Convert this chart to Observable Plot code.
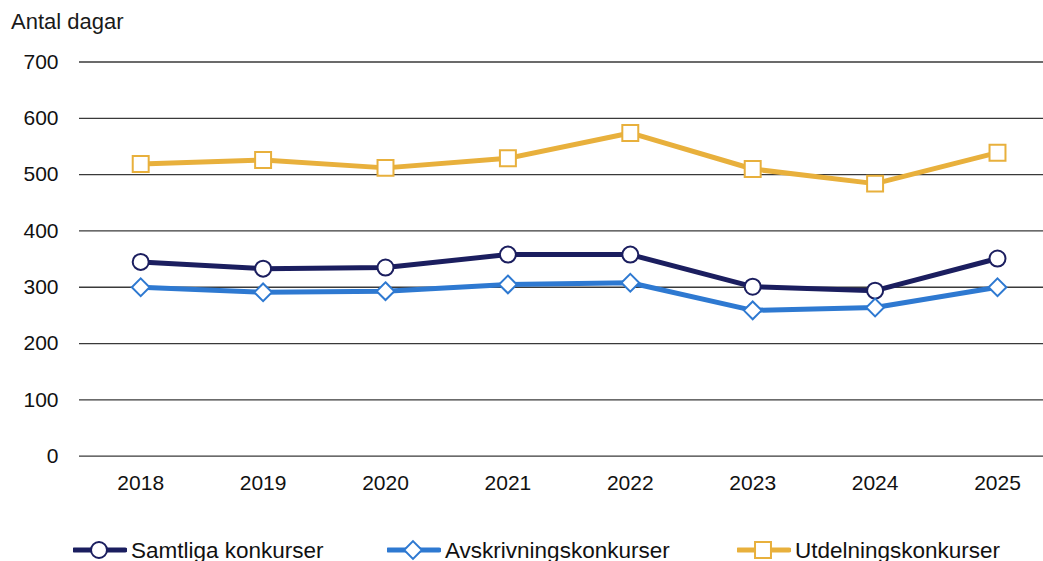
<!DOCTYPE html>
<html>
<head>
<meta charset="utf-8">
<script src="https://cdn.jsdelivr.net/npm/d3@7"></script>
<script src="https://cdn.jsdelivr.net/npm/@observablehq/plot@0.6"></script>
<style>
  html, body { margin: 0; padding: 0; background: #fff; overflow: hidden; }
  #wrap { position: relative; width: 1043px; height: 561px; font-family: "Liberation Sans", Arial, sans-serif; color: #111; }
  #title { position: absolute; left: 11px; top: 9px; font-size: 22px; color: #1a1a1a; }
  #chart { position: absolute; left: 0; top: 0; }
  .leg { position: absolute; top: 538px; height: 26px; display: flex; align-items: center; font-size: 22.5px; color: #111; white-space: nowrap; }
  .leg svg { display: block; margin-right: 4px; }
</style>
</head>
<body>
<div id="wrap">
  <div id="chart"></div>
  <div id="title">Antal dagar</div>
  <div id="legend"></div>
</div>
<script>
const years = [2018, 2019, 2020, 2021, 2022, 2023, 2024, 2025];
const seriesNames = ["Samtliga konkurser", "Avskrivningskonkurser", "Utdelningskonkurser"];
const samtliga = [345, 333, 335, 358, 358, 301, 294, 351];
const avskrivning = [300, 291, 293, 305, 308, 259, 264, 300];
const utdelning = [519, 526, 512, 529, 574, 510, 484, 539];
const yTicks = [0, 100, 200, 300, 400, 500, 600, 700];
const colors = ["#1b1e5f", "#2e79d1", "#e8b03c"];
const symbols = ["circle", "diamond2", "square"];
const radii = [8, 8, 9];

const valuesBySeries = [samtliga, avskrivning, utdelning];
const data = [];
seriesNames.forEach((s, i) => years.forEach((y, j) => data.push({series: s, year: y, value: valuesBySeries[i][j]})));

const width = 1043, height = 520;
const marginLeft = 79, marginTop = 61.5;
const marginBottom = height - 455.7;

const chart = Plot.plot({
  width, height,
  marginLeft, marginRight: 0, marginTop, marginBottom,
  style: { fontFamily: "Liberation Sans, Arial, sans-serif", fontSize: "21px", color: "#111", background: "transparent" },
  x: { domain: [2017.5, 2025.5], range: [marginLeft, marginLeft + 8 * 122.4], label: null },
  y: { domain: [0, 700], label: null },
  marks: [
    Plot.ruleY(yTicks, { stroke: "#3a3a3a", strokeWidth: 1.3 }),
    Plot.axisY(yTicks, { tickSize: 0, tickPadding: 21, label: null, fontSize: 21 }),
    Plot.axisX(years, { tickSize: 0, tickPadding: 19, label: null, tickFormat: d => String(d), fontSize: 21 }),
    ...seriesNames.map((s, i) => Plot.line(data.filter(d => d.series === s), {
      x: "year", y: "value", stroke: colors[i], strokeWidth: 5, strokeLinejoin: "round"
    })),
    ...seriesNames.map((s, i) => Plot.dot(data.filter(d => d.series === s), {
      x: "year", y: "value", symbol: () => symbols[i], r: radii[i], fill: "white", stroke: colors[i], strokeWidth: 2
    }))
  ]
});
document.getElementById("chart").appendChild(chart);

// legend
const legend = document.getElementById("legend");
const legLeft = [73, 387, 737];
seriesNames.forEach((s, i) => {
  const div = document.createElement("div");
  div.className = "leg";
  div.style.left = legLeft[i] + "px";
  const svg = d3.create("svg").attr("width", 54).attr("height", 26);
  svg.append("line").attr("x1", 1).attr("x2", 52).attr("y1", 12).attr("y2", 12)
    .attr("stroke", colors[i]).attr("stroke-width", 5).attr("stroke-linecap", "round");
  const sym = { circle: d3.symbolCircle, diamond2: d3.symbolDiamond2, square: d3.symbolSquare }[symbols[i]];
  svg.append("path").attr("transform", "translate(26,12)")
    .attr("d", d3.symbol(sym, Math.PI * radii[i] * radii[i])())
    .attr("fill", "white").attr("stroke", colors[i]).attr("stroke-width", 2);
  div.appendChild(svg.node());
  const span = document.createElement("span");
  span.textContent = s;
  div.appendChild(span);
  legend.appendChild(div);
});
</script>
</body>
</html>
